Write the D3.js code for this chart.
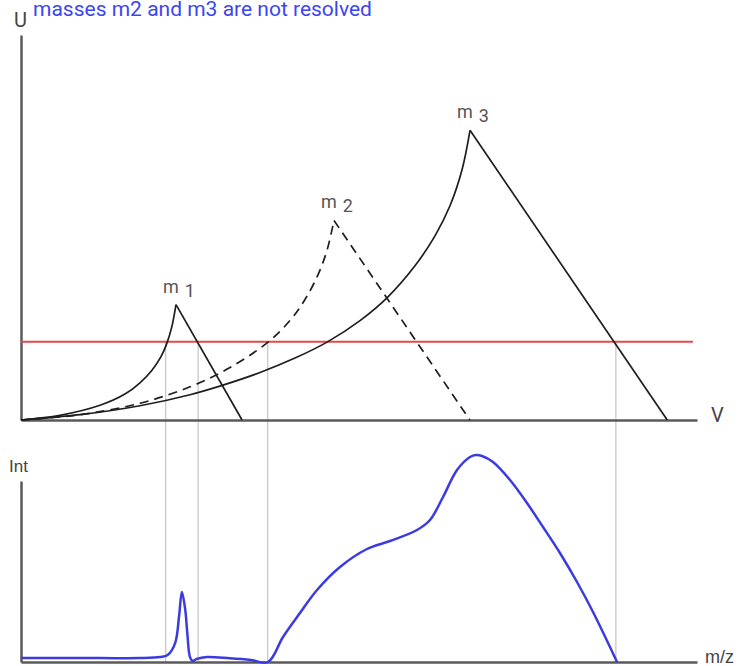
<!DOCTYPE html>
<html>
<head>
<meta charset="utf-8">
<script src="https://cdn.jsdelivr.net/npm/d3@7"></script>
<style>
  body { margin: 0; background: #fff; }
  svg { display: block; }
</style>
</head>
<body>
<svg id="chart" width="744" height="666"></svg>
<script>
// stability regions (V, U) - left branches are curved, right branches straight
var m1Left = [[0, 0], [5.77, 1.22], [11.69, 3.82], [15.38, 6.73], [17.60, 9.66], [19.38, 12.94], [20.71, 16.44], [21.60, 20.03], [22.34, 24.45], [22.93, 29.95]];
var m1Right = [[22.93, 29.95], [32.7, 0]];
var m2Left = [[0, 0], [8.73, 1.38], [17.60, 4.34], [25.00, 8.62], [30.92, 13.61], [36.54, 20.23], [39.79, 25.84], [42.01, 31.30], [43.93, 37.71], [45.26, 44.03], [46.30, 51.84]];
var m2Right = [[46.30, 51.84], [66.4, 0]];
var m3Left = [[0, 0], [8.73, 1.38], [17.60, 3.71], [25.00, 6.57], [29.88, 9.06], [35.36, 12.34], [40.53, 16.08], [45.27, 20.23], [50.15, 25.82], [54.29, 32.0], [58.28, 40.05], [61.24, 47.84], [63.46, 55.64], [65.24, 64.99], [66.42, 75.25]];
var m3Right = [[66.42, 75.25], [95.6, 0]];

var scanU = 20.3;           // red scan line level
var scanEnd = 99.4;
var dropLines = [21.4, 26.2, 36.5, 88.0];   // where the scan line cuts the boundaries

// resulting spectrum (m/z, Int)
var spectrum = [[0, 1.9], [11.7, 1.9], [17.6, 1.9], [20.6, 2.4], [21.7, 3.4], [22.8, 9.2], [23.4, 22.8], [23.8, 34.0],
  [24.3, 25.3], [24.6, 14.1], [25.0, 2.4], [25.4, 0.5], [26.0, 1.5], [27.5, 2.4], [30.9, 1.8], [34.0, 1.0], [36.54, 0],
  [38.76, 12.15], [41.27, 23.82], [43.79, 35.0], [47.19, 46.18], [51.18, 54.94], [54.59, 58.82], [58.58, 64.17],
  [60.50, 69.03], [62.43, 80.21], [64.50, 93.34], [66.42, 99.66], [67.31, 100.63], [68.2, 100.15], [69.82, 97.23],
  [72.34, 88.48], [74.85, 77.3], [77.22, 65.63], [79.73, 52.99], [82.25, 38.89], [84.62, 24.31], [88.17, 0]];

var massLabels = [
  { name: "m", sub: "1", apex: m1Right[0] },
  { name: "m", sub: "2", apex: m2Right[0] },
  { name: "m", sub: "3", apex: m3Right[0] }
];

var svg = d3.select("#chart");

var x = d3.scaleLinear().domain([0, 100]).range([21, 697]);
var yTop = d3.scaleLinear().domain([0, 100]).range([420, 35]);
var yBot = d3.scaleLinear().domain([0, 88]).range([662, 481]);

var axisColor = "#5a5a5a";
var labelColor = "#444";

// title
svg.append("text")
  .attr("x", 33)
  .attr("y", 16)
  .style("font-family", "Roboto, sans-serif")
  .style("font-size", "21px")
  .attr("fill", "#3b45f0")
  .text("masses m2 and m3 are not resolved");

// gray drop lines from the scan line down to the spectrum axis
svg.append("g").selectAll("line")
  .data(dropLines)
  .join("line")
  .attr("x1", d => x(d)).attr("x2", d => x(d))
  .attr("y1", yTop(scanU)).attr("y2", yBot(0))
  .attr("stroke", "#c8c8c8")
  .attr("stroke-width", 1.3);

// axes (no ticks)
function drawAxis(g) {
  g.selectAll(".tick").remove();
  g.select(".domain").attr("stroke", axisColor).attr("stroke-width", 2.5);
}
svg.append("g").attr("transform", "translate(0," + yTop(0) + ")")
  .call(d3.axisBottom(x).tickValues([]).tickSizeOuter(0)).call(drawAxis);
svg.append("g").attr("transform", "translate(" + x(0) + ",0)")
  .call(d3.axisLeft(yTop).tickValues([]).tickSizeOuter(0)).call(drawAxis);
svg.append("g").attr("transform", "translate(0," + yBot(0) + ")")
  .call(d3.axisBottom(x).tickValues([]).tickSizeOuter(0)).call(drawAxis);
svg.append("g").attr("transform", "translate(" + x(0) + ",0)")
  .call(d3.axisLeft(yBot).tickValues([]).tickSizeOuter(0)).call(drawAxis);

// axis labels
function axisLabel(px, py, txt, size, font) {
  svg.append("text")
    .attr("x", px).attr("y", py)
    .style("font-family", font || "Roboto, sans-serif")
    .style("font-size", size + "px")
    .attr("fill", labelColor)
    .text(txt);
}
axisLabel(14, 27, "U", 20);
axisLabel(711, 422, "V", 20);
axisLabel(9, 472, "Int", 17, "'Liberation Sans', Arial, sans-serif");
axisLabel(705, 663, "m/z", 18, "'Liberation Sans', Arial, sans-serif");

// red scan line
svg.append("line")
  .attr("x1", x(0)).attr("x2", x(scanEnd))
  .attr("y1", yTop(scanU)).attr("y2", yTop(scanU))
  .attr("stroke", "#e8474a")
  .attr("stroke-width", 2);

// stability boundaries
var curveLine = d3.line().x(d => x(d[0])).y(d => yTop(d[1])).curve(d3.curveCatmullRom.alpha(0.5));
var straightLine = d3.line().x(d => x(d[0])).y(d => yTop(d[1]));

var regions = [
  { left: m1Left, right: m1Right, dash: null },
  { left: m2Left, right: m2Right, dash: "9,6" },
  { left: m3Left, right: m3Right, dash: null }
];
var rg = svg.append("g");
regions.forEach(function (r) {
  rg.append("path").attr("d", curveLine(r.left))
    .attr("fill", "none").attr("stroke", "#1e1e1e").attr("stroke-width", 1.7)
    .attr("stroke-dasharray", r.dash);
  rg.append("path").attr("d", straightLine(r.right))
    .attr("fill", "none").attr("stroke", "#1e1e1e").attr("stroke-width", 1.7)
    .attr("stroke-dasharray", r.dash);
});

// mass labels above each apex
var lab = svg.append("g").selectAll("text")
  .data(massLabels)
  .join("text")
  .attr("x", d => x(d.apex[0]) - 13)
  .attr("y", d => yTop(d.apex[1]) - 12)
  .style("font-family", "Roboto, sans-serif")
  .style("font-size", "18px")
  .attr("fill", "#555");
lab.append("tspan").text(d => d.name);
lab.append("tspan").attr("dx", 6).attr("dy", 4).text(d => d.sub);

// spectrum
svg.append("path")
  .datum(spectrum)
  .attr("d", d3.line().x(d => x(d[0])).y(d => yBot(d[1])).curve(d3.curveCatmullRom.alpha(0.5)))
  .attr("fill", "none")
  .attr("stroke", "#3b3be0")
  .attr("stroke-width", 2.5);
</script>
</body>
</html>
